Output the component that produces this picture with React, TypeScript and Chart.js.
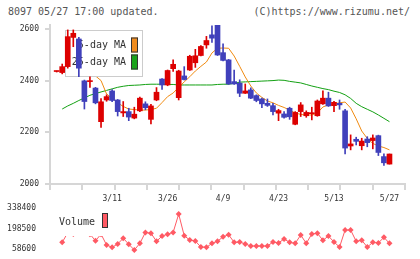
import React, { useEffect, useRef } from 'react';
import { Chart, registerables } from 'chart.js';

Chart.register(...registerables);

const MONO = '"DejaVu Sans Mono", monospace';

// Daily candles (one entry per trading day)
const openPrices = [
  2435, 2431, 2454, 2567, 2561, 2399, 2396, 2371, 2241, 2325,
  2360, 2325, 2275, 2280, 2255, 2283, 2310, 2250, 2325, 2406,
  2383, 2446, 2334, 2418, 2441, 2469, 2497, 2538, 2577, 2615,
  2508, 2480, 2396, 2390, 2351, 2364, 2342, 2329, 2312, 2303,
  2274, 2271, 2293, 2231, 2280, 2264, 2272, 2264, 2310, 2332,
  2303, 2312, 2283, 2147, 2173, 2148, 2174, 2168, 2187, 2106,
  2077,
];
const highPrices = [
  2437, 2464, 2596, 2596, 2567, 2402, 2415, 2374, 2330, 2345,
  2365, 2327, 2319, 2293, 2297, 2336, 2318, 2308, 2373, 2408,
  2441, 2480, 2440, 2454, 2498, 2521, 2535, 2571, 2612, 2615,
  2542, 2482, 2441, 2403, 2387, 2372, 2345, 2332, 2329, 2312,
  2289, 2280, 2297, 2280, 2315, 2283, 2297, 2325, 2360, 2355,
  2320, 2325, 2289, 2190, 2181, 2177, 2183, 2190, 2189, 2117,
  2116,
];
const lowPrices = [
  2433, 2426, 2448, 2531, 2415, 2290, 2374, 2310, 2219, 2320,
  2318, 2263, 2261, 2245, 2252, 2280, 2287, 2232, 2322, 2366,
  2380, 2435, 2325, 2402, 2439, 2451, 2495, 2525, 2548, 2497,
  2476, 2385, 2385, 2338, 2350, 2330, 2318, 2295, 2300, 2267,
  2245, 2255, 2250, 2229, 2261, 2258, 2248, 2262, 2308, 2300,
  2280, 2289, 2116, 2132, 2151, 2132, 2144, 2136, 2110, 2072,
  2077,
];
const closePrices = [
  2435, 2454, 2570, 2583, 2448, 2319, 2396, 2314, 2318, 2338,
  2323, 2280, 2280, 2259, 2270, 2332, 2295, 2302, 2355, 2383,
  2439, 2463, 2437, 2404, 2494, 2496, 2532, 2555, 2564, 2499,
  2478, 2387, 2387, 2351, 2360, 2332, 2323, 2310, 2304, 2280,
  2284, 2258, 2260, 2277, 2306, 2277, 2274, 2321, 2332, 2302,
  2316, 2306, 2139, 2155, 2165, 2166, 2160, 2178, 2122, 2082,
  2116,
];

// Moving averages
const maFive = [
  null, null, null, null, 2498, 2475, 2463, 2418, 2400, 2348,
  2331, 2314, 2300, 2290, 2288, 2286, 2286, 2288, 2293, 2315,
  2338, 2352, 2374, 2395, 2415, 2437, 2455, 2472, 2507, 2525,
  2526, 2525, 2495, 2455, 2414, 2379, 2352, 2335, 2321, 2314,
  2304, 2296, 2286, 2275, 2269, 2267, 2267, 2275, 2298, 2306,
  2310, 2314, 2317, 2294, 2252, 2205, 2176, 2157, 2147, 2141,
  2132,
];
const maTwentyFive = [
  null, 2290, 2302, 2312, 2323, 2333, 2343, 2350, 2356, 2362,
  2368, 2374, 2378, 2381, 2382, 2383, 2385, 2386, 2386, 2386,
  2385, 2385, 2383, 2383, 2383, 2383, 2383, 2383, 2383, 2385,
  2386, 2386, 2389, 2394, 2395, 2396, 2397, 2398, 2399, 2400,
  2402, 2401, 2397, 2394, 2391, 2385, 2379, 2374, 2369, 2365,
  2359, 2354, 2345, 2331, 2312, 2299, 2289, 2279, 2267, 2254,
  2241,
];

// Daily volume
const volumes = [
  null, 104000, 170000, 161000, 200000, 180000, 160000, 115000, 160000, 86000,
  70000, 93000, 132000, 91000, 52000, 97000, 172000, 166000, 111000, 147000,
  159000, 172000, 297000, 149000, 120000, 113000, 72000, 70000, 97000, 111000,
  142000, 156000, 104000, 106000, 93000, 79000, 79000, 79000, 79000, 106000,
  100000, 127000, 104000, 97000, 154000, 97000, 161000, 166000, 118000, 147000,
  106000, 72000, 188000, 188000, 111000, 118000, 72000, 104000, 100000, 138000,
  97000,
];

const dateTickIndex = [10, 20, 30, 40, 50, 60];
const dateTickLabels = ['3/11', '3/26', '4/9', '4/23', '5/13', '5/27'];
const priceTicks = [2000, 2200, 2400, 2600];
const volumeTicks = [58600, 198500, 338400];

const X_MIN = -1.2;
const X_MAX = 62.8;
const PRICE_MIN = 2000;
const PRICE_MAX = 2615;
const VOL_MIN = 31300;
const VOL_MAX = 365700;

const RED = '#dd0000';
const BLUE = '#4040bb';
const ORANGE = '#f08a10';
const GREEN = '#12a012';
const VOL = '#ff5a64';
const AXIS = '#d6d6d6';
const TEXT = '#333333';

const candleColors = openPrices.map((o, i) => (closePrices[i] >= o ? RED : BLUE));
const plainNumber = (v: any) => String(v);

// Legend panel for the moving averages; drawn above the MA lines, below the candles.
const maLegend = {
  id: 'maLegend',
  beforeDatasetDraw(chart: any, args: any) {
    if (chart.data.datasets[args.index].label !== 'wick') return;
    const ctx = chart.ctx;
    const items = chart.data.datasets.filter((d: any) => d.type === 'line').reverse();
    ctx.save();
    ctx.fillStyle = '#ffffff';
    ctx.fillRect(65, 30, 78, 47);
    ctx.strokeStyle = '#cccccc';
    ctx.lineWidth = 1;
    ctx.strokeRect(65.5, 30.5, 77, 46);
    ctx.font = '10px ' + MONO;
    ctx.textAlign = 'right';
    ctx.textBaseline = 'middle';
    items.forEach((d: any, k: number) => {
      const cy = 45.5 + k * 17;
      ctx.fillStyle = TEXT;
      ctx.fillText(d.label, 126, cy);
      ctx.fillStyle = d.swatch;
      ctx.fillRect(131, cy - 8, 7, 15);
      ctx.strokeStyle = '#333333';
      ctx.strokeRect(131.5, cy - 7.5, 6, 14);
    });
    ctx.restore();
  },
};

// Legend panel for the volume series; it sits on top of the line.
const volumeLegend = {
  id: 'volumeLegend',
  afterDatasetsDraw(chart: any) {
    const ctx = chart.ctx;
    const d = chart.data.datasets[0];
    ctx.save();
    ctx.fillStyle = '#ffffff';
    ctx.fillRect(56, 5, 55, 31);
    ctx.font = '10px ' + MONO;
    ctx.textAlign = 'left';
    ctx.textBaseline = 'middle';
    ctx.fillStyle = TEXT;
    ctx.fillText(d.label, 59, 22.5);
    ctx.fillStyle = d.borderColor;
    ctx.fillRect(102, 13, 6, 15);
    ctx.strokeStyle = '#333333';
    ctx.lineWidth = 1;
    ctx.strokeRect(102.5, 13.5, 5, 14);
    ctx.restore();
  },
};

export default function App() {
  const priceRef = useRef<HTMLCanvasElement | null>(null);
  const volRef = useRef<HTMLCanvasElement | null>(null);

  useEffect(() => {
    const idx = openPrices.map((_, i) => i);
    const priceChart = new Chart(priceRef.current as HTMLCanvasElement, {
      type: 'bar',
      data: {
        datasets: [
          {
            type: 'line',
            label: '25-day MA',
            data: maTwentyFive.map((v, i) => ({ x: i, y: v })),
            borderColor: GREEN,
            swatch: '#1aa31a',
            borderWidth: 1,
            pointRadius: 0,
            pointHoverRadius: 0,
            tension: 0,
            order: 4,
          } as any,
          {
            type: 'line',
            label: '5-day MA',
            data: maFive.map((v, i) => ({ x: i, y: v })),
            borderColor: ORANGE,
            swatch: '#f08c1e',
            borderWidth: 1,
            pointRadius: 0,
            pointHoverRadius: 0,
            tension: 0,
            order: 3,
          } as any,
          {
            type: 'bar',
            label: 'wick',
            data: idx.map((i) => ({ x: i, y: [lowPrices[i], highPrices[i]] })),
            backgroundColor: candleColors,
            barThickness: 1,
            grouped: false,
            borderWidth: 0,
            order: 2,
          } as any,
          {
            type: 'bar',
            label: 'body',
            data: idx.map((i) => ({ x: i, y: [openPrices[i], closePrices[i]] })),
            backgroundColor: candleColors,
            barThickness: 5,
            minBarLength: 1,
            grouped: false,
            borderWidth: 0,
            order: 1,
          } as any,
        ],
      },
      options: {
        responsive: false,
        animation: false,
        events: [],
        layout: { autoPadding: false, padding: { left: 0, right: 15, top: 25, bottom: 0 } },
        plugins: { legend: { display: false }, tooltip: { enabled: false } },
        scales: {
          x: {
            type: 'linear',
            axis: 'x',
            position: 'bottom',
            min: X_MIN,
            max: X_MAX,
            offset: false,
            weight: 0,
            grid: { offset: false, drawOnChartArea: false, color: AXIS, lineWidth: 2, tickLength: 6 },
            border: { color: AXIS, width: 2 },
            ticks: { display: false },
            afterBuildTicks: (s: any) => {
              const n = 11;
              s.ticks = Array.from({ length: n + 1 }, (_, k) => ({ value: X_MIN + (k * (X_MAX - X_MIN)) / n }));
            },
            afterFit: (s: any) => {
              s.height = 6;
            },
          },
          xDates: {
            type: 'linear',
            axis: 'x',
            position: 'bottom',
            min: X_MIN,
            max: X_MAX,
            offset: false,
            weight: 1,
            grid: { display: false, offset: false },
            border: { display: false },
            ticks: {
              autoSkip: false,
              maxRotation: 0,
              padding: -4,
              color: TEXT,
              font: { family: MONO, size: 8 },
              callback: (v: any) => {
                const k = dateTickIndex.indexOf(Number(v));
                return k >= 0 ? dateTickLabels[k] : '';
              },
            },
            afterBuildTicks: (s: any) => {
              s.ticks = dateTickIndex.map((v) => ({ value: v }));
            },
            afterFit: (s: any) => {
              s.height = 20;
            },
          },
          y: {
            type: 'linear',
            min: PRICE_MIN,
            max: PRICE_MAX,
            grid: { drawOnChartArea: false, color: AXIS, lineWidth: 2, tickLength: 5 },
            border: { color: AXIS, width: 2 },
            ticks: { padding: 6, color: TEXT, font: { family: MONO, size: 8 }, callback: plainNumber },
            afterBuildTicks: (s: any) => {
              s.ticks = priceTicks.map((v) => ({ value: v }));
            },
            afterFit: (s: any) => {
              s.width = 50;
            },
          },
        },
      } as any,
      plugins: [maLegend],
    });

    const volChart = new Chart(volRef.current as HTMLCanvasElement, {
      type: 'line',
      data: {
        datasets: [
          {
            label: 'Volume',
            data: volumes.map((v, i) => ({ x: i, y: v })),
            borderColor: VOL,
            backgroundColor: VOL,
            borderWidth: 1,
            pointStyle: 'rectRot',
            pointRadius: 3,
            pointHoverRadius: 3,
            pointBorderWidth: 0,
            pointBackgroundColor: VOL,
            tension: 0,
            clip: false,
          } as any,
        ],
      },
      options: {
        responsive: false,
        animation: false,
        events: [],
        layout: { autoPadding: false, padding: { left: 0, right: 15, top: 4, bottom: 6 } },
        plugins: { legend: { display: false }, tooltip: { enabled: false } },
        scales: {
          x: { type: 'linear', min: X_MIN, max: X_MAX, display: false },
          y: {
            type: 'linear',
            min: VOL_MIN,
            max: VOL_MAX,
            grid: { display: false },
            border: { display: false },
            ticks: { padding: 6, color: TEXT, font: { family: MONO, size: 8 }, callback: plainNumber },
            afterBuildTicks: (s: any) => {
              s.ticks = volumeTicks.map((v) => ({ value: v }));
            },
            afterFit: (s: any) => {
              s.width = 50;
              s.paddingTop = 0;
              s.paddingBottom = 0;
            },
          },
        },
      } as any,
      plugins: [volumeLegend],
    });

    return () => {
      priceChart.destroy();
      volChart.destroy();
    };
  }, []);

  const textStyle: React.CSSProperties = {
    position: 'absolute',
    top: 6,
    fontFamily: MONO,
    fontSize: 10,
    lineHeight: '12px',
    color: '#555555',
    whiteSpace: 'pre',
  };

  return (
    <div style={{ position: 'fixed', left: 0, top: 0, width: 420, height: 259, background: '#ffffff', overflow: 'hidden' }}>
      <div style={{ ...textStyle, left: 8 }}>8097 05/27 17:00 updated.</div>
      <div style={{ ...textStyle, right: 10 }}>(C)https://www.rizumu.net/</div>
      <canvas ref={priceRef} width={420} height={210} style={{ position: 'absolute', left: 0, top: 0 }} />
      <canvas ref={volRef} width={420} height={59} style={{ position: 'absolute', left: 0, top: 200 }} />
    </div>
  );
}
